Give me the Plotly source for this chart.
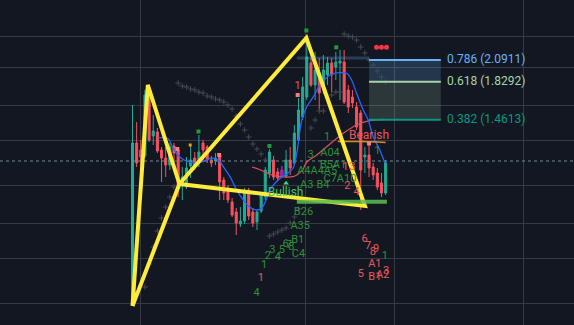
import plotly.graph_objects as go

# ---------------- data (bar index, price units) ----------------
bar_idx = list(range(62))
opens  = [23,182,175,169,237,189,193,175,167,160,179,175,139,138,159,167,163,182,178,165,164,170,145,137,123,113,101,104,135,113,103,114,128,152,165,153,149,149,165,162,185,208,228,262,240,252,237,250,262,258,262,263,235,228,218,212,168,170,158,152,142,132]
highs  = [220,203,185,235,241,210,197,178,178,182,182,177,158,168,179,173,190,185,180,169,172,172,148,140,127,117,118,137,137,117,115,133,158,176,169,157,159,175,178,200,227,248,289,267,273,267,270,268,267,273,275,275,240,235,223,215,178,180,162,157,152,165]
lows   = [19,158,145,167,183,180,172,143,148,155,165,128,125,136,147,155,158,163,162,158,160,125,125,122,108,90,98,101,105,98,95,112,125,147,145,145,147,147,150,160,183,205,225,238,225,215,231,240,233,245,225,221,212,217,195,115,152,148,145,135,128,130]
closes = [182,162,168,230,185,194,174,167,160,178,172,139,148,157,165,158,173,175,165,162,167,143,132,125,110,102,104,134,109,102,113,130,155,173,148,147,155,165,157,192,215,238,268,240,255,232,255,262,250,263,264,223,218,222,198,155,170,157,150,138,132,162]
special_bar = 36          # purple-coloured bar

last_price = 164
x_view = [-31.93, 106.39]
y_view = [0, 325]
grid_x = [1.95, 41.7, 63.06, 94.2]
grid_y = [22, 67, 102, 140, 184.5, 220, 258, 289]

# harmonic pattern X-A-B-C-D (drawn X,A,B,C,D,B,X)
pat_x = [0, 3.7, 11.3, 41.9, 56.0, 11.3, 0]
pat_y = [19, 240, 141, 287, 119, 141, 19]

# moving averages
ma_fast_x = [6.2,8.6,9.5,10.5,11.4,12.9,15.1,17.0,18.7,20.7,21.9,23.5,25.1,26.7,28.3,29.9,31.1,32.2,33.1,34.6,36.0,37.5,38.7,39.6,40.8,42.0,43.6,45.2,47.6,50.0,51.6,52.8,54.0,55.6,56.8,58.0,59.6,60.8]
ma_fast_y = [187.3,186.3,179,172,168,164,162,163.3,166.7,165,158.3,148.3,135,125,117.7,115,116.7,125,135,143,148,152,157,172,205,218.3,228.3,240,250,252.3,251.7,245,231.7,215,205,188.3,175,162]
ma_slow_x = [28.8,30.3,31.9,33.6,35.5,38.7,39.6,41.0,42.0,44.4,46.8,50.8,54.0,57.2,60.8]
ma_slow_y = [158,156,153,150,148.3,148.3,150,155,163,170,178.3,191.7,200,204.3,205.7]
ma_orange_x = [49.5, 55, 61]
ma_orange_y = [183.5, 183.5, 182.5]

# parabolic SAR
sar_x = [3,4,5,6,7,8,9,10,
         11,12,13,14,15,16,17,18,19,20,21,22,23,24,25,26,27,28,29,30,31,32,
         33,34,35,36,37,38,39,40,43,44,45,46,47,48,49,50,
         51,52,53,54,55,56,57,58,59,60,61]
sar_y = [38,61,78,94,107,118,128,138,
         242,239,238,236,235,233,232,229,228,226,225,223,220,216,209,201,195,188,181,176,171,165,
         89,91,93,95,97,102,108,116,197,205,214,214,227,230,233,233,
         291,289,288,285,278,272,265,260,254,248,243]

# fibonacci retracement
fib_x = [57.0, 74.3]
fib_levels = [0.786, 0.618, 0.382]
fib_values = [2.0911, 1.8292, 1.4613]
fib_y = [265, 243.3, 205.3]
fib_ext_x = [39.6, 57.0]
fib_ext_y = 267
fib_label_x = 75.8

# support line, signal dots
support_x = [39.6, 61.3]
support_y = 123.3
alert_dots_x = [58.8, 60.0, 61.2]
alert_dots_y = [277.7, 277.7, 277.7]

green_sq_x = [15.9, 33.0, 41.9, 49.1]
green_sq_y = [193.5, 179, 294.5, 277.7]
red_sq_x = [10.8, 20.9, 39.8, 57.0]
red_sq_y = [176, 170, 230, 181.5]
orange_pt = ([13.9], [180])
tri_pt = ([37.0], [141.7])

green_txt = ["4","1","2","3","4","5","6","7","8","B1","C4","A35","B26","A3","B4","A4A4A5","3","A04","1","B5A1","C7A10","1","1"]
green_tx = [29.9,31.7,32.6,33.7,35.0,36.0,36.9,37.7,38.3,39.8,40.0,40.4,41.2,42.0,45.9,44.5,42.9,47.6,46.9,48.3,50.0,59.0,60.8]
green_ty = [31.7,60,69,74.3,67.3,75,81,80,78,85,70.7,99,112.3,140,140,153.3,169.7,172,187.3,160,145.7,173.3,68.3]

red_txt = ["1","1","1","3","2","4","6","7","8","9","A1","5","B1","A2","3"]
red_tx = [39.8,30.9,51.3,53.0,51.8,54.0,55.9,56.8,57.9,58.7,58.4,55.0,58.4,60.3,61.1]
red_ty = [238.3,46.7,158,158,139,133,85.7,79,72.3,75.7,61,51,47.7,50,54]

bull_label = ("Bullish", 36.9, 132.5)
bear_label = ("Bearish", 57.0, 189.3)

# ---------------- colours ----------------
BG = "#131722"
UP = "#22ab94"
DN = "#f7525f"

fig = go.Figure()

# fib bands
fig.add_trace(go.Scatter(x=[fib_x[0], fib_x[1], fib_x[1], fib_x[0], fib_x[0]],
                         y=[fib_y[0], fib_y[0], fib_y[1], fib_y[1], fib_y[0]],
                         fill="toself", fillcolor="rgba(100,181,246,0.2)", mode="none", hoverinfo="skip"))
fig.add_trace(go.Scatter(x=[fib_x[0], fib_x[1], fib_x[1], fib_x[0], fib_x[0]],
                         y=[fib_y[1], fib_y[1], fib_y[2], fib_y[2], fib_y[1]],
                         fill="toself", fillcolor="rgba(165,214,167,0.17)", mode="none", hoverinfo="skip"))

# candles
main = [i for i in bar_idx if i != special_bar]
fig.add_trace(go.Candlestick(
    x=[bar_idx[i] for i in main], open=[opens[i] for i in main], high=[highs[i] for i in main],
    low=[lows[i] for i in main], close=[closes[i] for i in main],
    increasing=dict(line=dict(color=UP, width=1), fillcolor=UP),
    decreasing=dict(line=dict(color=DN, width=1), fillcolor=DN), hoverinfo="skip"))
fig.add_trace(go.Candlestick(
    x=[bar_idx[special_bar], bar_idx[special_bar] + 1e-9], open=[opens[special_bar]] * 2,
    high=[highs[special_bar]] * 2, low=[lows[special_bar]] * 2, close=[closes[special_bar]] * 2,
    increasing=dict(line=dict(color="#9c27b0", width=1), fillcolor="#9c27b0"),
    decreasing=dict(line=dict(color="#9c27b0", width=1), fillcolor="#9c27b0"), hoverinfo="skip"))

# price line
fig.add_trace(go.Scatter(x=x_view, y=[last_price, last_price], mode="lines",
                         line=dict(color="#6f8c94", width=1, dash="3px,3px"), hoverinfo="skip"))

# MAs
fig.add_trace(go.Scatter(x=ma_slow_x, y=ma_slow_y, mode="lines", line=dict(color="#d9525a", width=1.2, shape="spline"), hoverinfo="skip"))
fig.add_trace(go.Scatter(x=ma_fast_x, y=ma_fast_y, mode="lines", line=dict(color="#2962ff", width=1.3, shape="spline"), hoverinfo="skip"))
fig.add_trace(go.Scatter(x=ma_orange_x, y=ma_orange_y, mode="lines", line=dict(color="#e08a1e", width=1.5, shape="spline"), hoverinfo="skip"))

# SAR
fig.add_trace(go.Scatter(x=sar_x, y=sar_y, mode="markers",
                         marker=dict(symbol="cross-thin", size=4, line=dict(color="#474a55", width=1)), hoverinfo="skip"))

# signal markers
fig.add_trace(go.Scatter(x=green_sq_x, y=green_sq_y, mode="markers", marker=dict(symbol="square", size=4, color="#1f9a3c"), hoverinfo="skip"))
fig.add_trace(go.Scatter(x=red_sq_x, y=red_sq_y, mode="markers", marker=dict(symbol="square", size=4, color="#f77c80"), hoverinfo="skip"))
fig.add_trace(go.Scatter(x=orange_pt[0], y=orange_pt[1], mode="markers", marker=dict(symbol="square", size=3, color="#ff9800"), hoverinfo="skip"))
fig.add_trace(go.Scatter(x=tri_pt[0], y=tri_pt[1], mode="markers", marker=dict(symbol="triangle-up", size=5, color="#3ddc84"), hoverinfo="skip"))
fig.add_trace(go.Scatter(x=alert_dots_x, y=alert_dots_y, mode="markers", marker=dict(symbol="circle", size=5, color="#f23645"), hoverinfo="skip"))

# harmonic pattern
fig.add_trace(go.Scatter(x=pat_x, y=pat_y, mode="lines", line=dict(color="#ffeb3b", width=4), hoverinfo="skip"))

# fib lines
fig.add_trace(go.Scatter(x=fib_ext_x, y=[fib_ext_y, fib_ext_y], mode="lines", line=dict(color="rgba(100,181,246,0.25)", width=3), hoverinfo="skip"))
fib_cols = ["#64b5f6", "#a5d6a7", "#089981"]
for lvl, val, yy, c in zip(fib_levels, fib_values, fib_y, fib_cols):
    fig.add_trace(go.Scatter(x=fib_x, y=[yy, yy], mode="lines", line=dict(color=c, width=2), hoverinfo="skip"))
    fig.add_trace(go.Scatter(x=[fib_label_x], y=[yy], mode="text", text=[f"{lvl} ({val})"],
                             textposition="middle right", textfont=dict(color=c, size=12, family="Roboto"), hoverinfo="skip"))

# support
fig.add_trace(go.Scatter(x=support_x, y=[support_y, support_y], mode="lines", line=dict(color="rgba(92,190,80,0.85)", width=4), hoverinfo="skip"))

# texts
fig.add_trace(go.Scatter(x=green_tx, y=green_ty, mode="text", text=green_txt, textposition="middle center",
                         textfont=dict(color="#2f8f3a", size=11, family="Roboto"), hoverinfo="skip"))
fig.add_trace(go.Scatter(x=red_tx, y=red_ty, mode="text", text=red_txt, textposition="middle center",
                         textfont=dict(color="#e8575c", size=11, family="Roboto"), hoverinfo="skip"))
fig.add_trace(go.Scatter(x=[bull_label[1]], y=[bull_label[2]], mode="text", text=[bull_label[0]], textposition="middle center",
                         textfont=dict(color="#3ec46a", size=12, family="Roboto"), hoverinfo="skip"))
fig.add_trace(go.Scatter(x=[bear_label[1]], y=[bear_label[2]], mode="text", text=[bear_label[0]], textposition="middle center",
                         textfont=dict(color="#e8575c", size=12, family="Roboto"), hoverinfo="skip"))

fig.update_layout(
    width=574, height=325, margin=dict(l=0, r=0, t=0, b=0),
    paper_bgcolor=BG, plot_bgcolor=BG, showlegend=False,
    xaxis=dict(range=x_view, tickvals=grid_x, showticklabels=False, ticks="", gridcolor="#363a45", gridwidth=1,
               zeroline=False, showline=False, rangeslider=dict(visible=False)),
    yaxis=dict(range=y_view, tickvals=grid_y, showticklabels=False, ticks="", gridcolor="#363a45", gridwidth=1,
               zeroline=False, showline=False),
)
fig.write_html("out.html")
